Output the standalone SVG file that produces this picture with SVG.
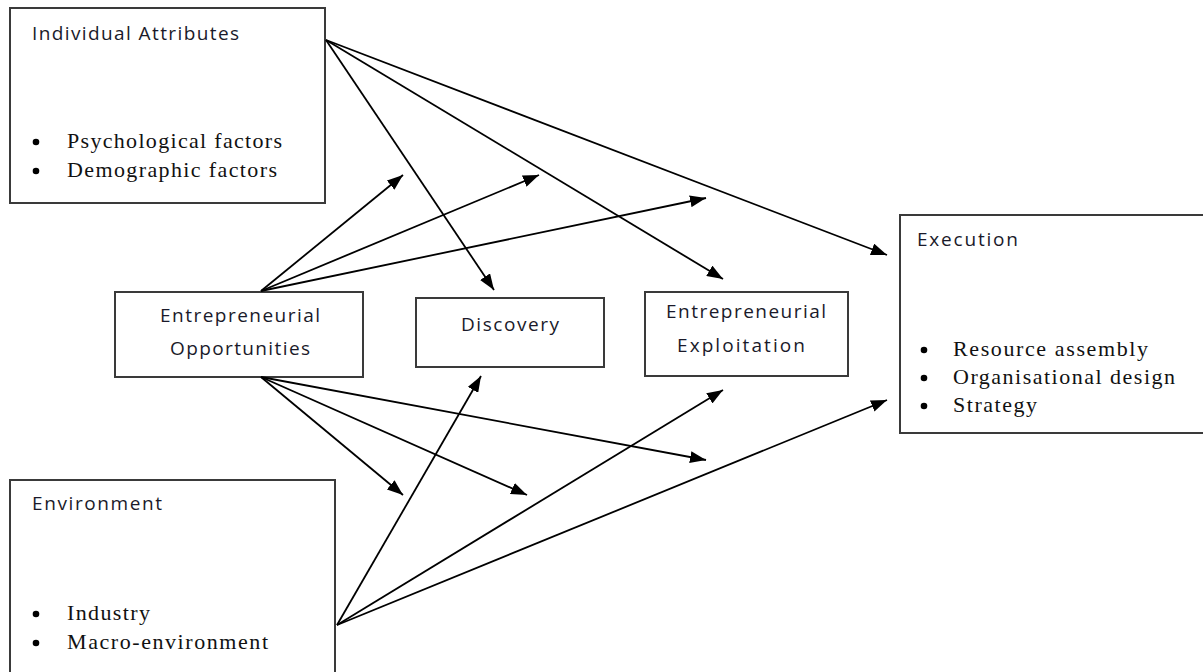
<svg xmlns="http://www.w3.org/2000/svg" width="1203" height="672" viewBox="0 0 1203 672">
<defs>
<marker id="ah" markerUnits="userSpaceOnUse" markerWidth="16" markerHeight="12" refX="16" refY="6" orient="auto">
<path d="M0,0 L16,6 L0,12 z" fill="#000"/>
</marker>
<style>
.box{fill:#fff;stroke:#3a3a3a;stroke-width:2}
.hd{font-family:"Open Sans","Liberation Sans",sans-serif;font-size:19px;fill:#1a1a2a}
.bl{font-family:"Liberation Serif","Times New Roman",serif;font-size:22px;fill:#111}
.dot{fill:#000}
.c line{stroke:#000;stroke-width:1.8;marker-end:url(#ah)}
</style>
</defs>
<rect width="1203" height="672" fill="#fff"/>

<g id="individual">
<rect class="box" x="10" y="8" width="315" height="195"/>
<text class="hd" x="32" y="40" textLength="207" lengthAdjust="spacing">Individual Attributes</text>
<circle class="dot" cx="36" cy="142" r="3.3"/>
<text class="bl" x="67" y="148" textLength="215" lengthAdjust="spacing">Psychological factors</text>
<circle class="dot" cx="36" cy="171" r="3.3"/>
<text class="bl" x="67" y="177" textLength="210" lengthAdjust="spacing">Demographic factors</text>
</g>

<g id="environment">
<rect class="box" x="10" y="480" width="325" height="210"/>
<text class="hd" x="32" y="510" textLength="130" lengthAdjust="spacing">Environment</text>
<circle class="dot" cx="36" cy="614" r="3.3"/>
<text class="bl" x="67" y="620" textLength="83" lengthAdjust="spacing">Industry</text>
<circle class="dot" cx="36" cy="643" r="3.3"/>
<text class="bl" x="67" y="649" textLength="201" lengthAdjust="spacing">Macro-environment</text>
</g>

<g id="execution">
<rect class="box" x="900" y="215" width="310" height="218"/>
<text class="hd" x="917" y="246" textLength="101" lengthAdjust="spacing">Execution</text>
<circle class="dot" cx="924" cy="350" r="3.3"/>
<text class="bl" x="953" y="356" textLength="195" lengthAdjust="spacing">Resource assembly</text>
<circle class="dot" cx="924" cy="378" r="3.3"/>
<text class="bl" x="953" y="384" textLength="222" lengthAdjust="spacing">Organisational design</text>
<circle class="dot" cx="924" cy="406" r="3.3"/>
<text class="bl" x="953" y="412" textLength="84" lengthAdjust="spacing">Strategy</text>
</g>

<g id="opportunities">
<rect class="box" x="115" y="292" width="248" height="85"/>
<text class="hd" x="160" y="322" textLength="160" lengthAdjust="spacing">Entrepreneurial</text>
<text class="hd" x="170" y="355" textLength="140" lengthAdjust="spacing">Opportunities</text>
</g>

<g id="discovery">
<rect class="box" x="416" y="298" width="188" height="69"/>
<text class="hd" x="461" y="331" textLength="98" lengthAdjust="spacing">Discovery</text>
</g>

<g id="exploitation">
<rect class="box" x="645" y="292" width="203" height="84"/>
<text class="hd" x="666" y="318" textLength="160" lengthAdjust="spacing">Entrepreneurial</text>
<text class="hd" x="677" y="352" textLength="128" lengthAdjust="spacing">Exploitation</text>
</g>

<g id="connectors" class="c">
<line x1="326" y1="40" x2="494" y2="290"/>
<line x1="326" y1="40" x2="723" y2="279"/>
<line x1="326" y1="40" x2="887" y2="255"/>
<line x1="261" y1="291" x2="403" y2="175"/>
<line x1="261" y1="291" x2="539" y2="175"/>
<line x1="261" y1="291" x2="706" y2="198"/>
<line x1="261" y1="377" x2="403" y2="495"/>
<line x1="261" y1="377" x2="527" y2="495"/>
<line x1="261" y1="377" x2="706" y2="460"/>
<line x1="337" y1="625" x2="481" y2="376"/>
<line x1="337" y1="625" x2="723" y2="390"/>
<line x1="337" y1="625" x2="887" y2="400"/>
</g>
</svg>
